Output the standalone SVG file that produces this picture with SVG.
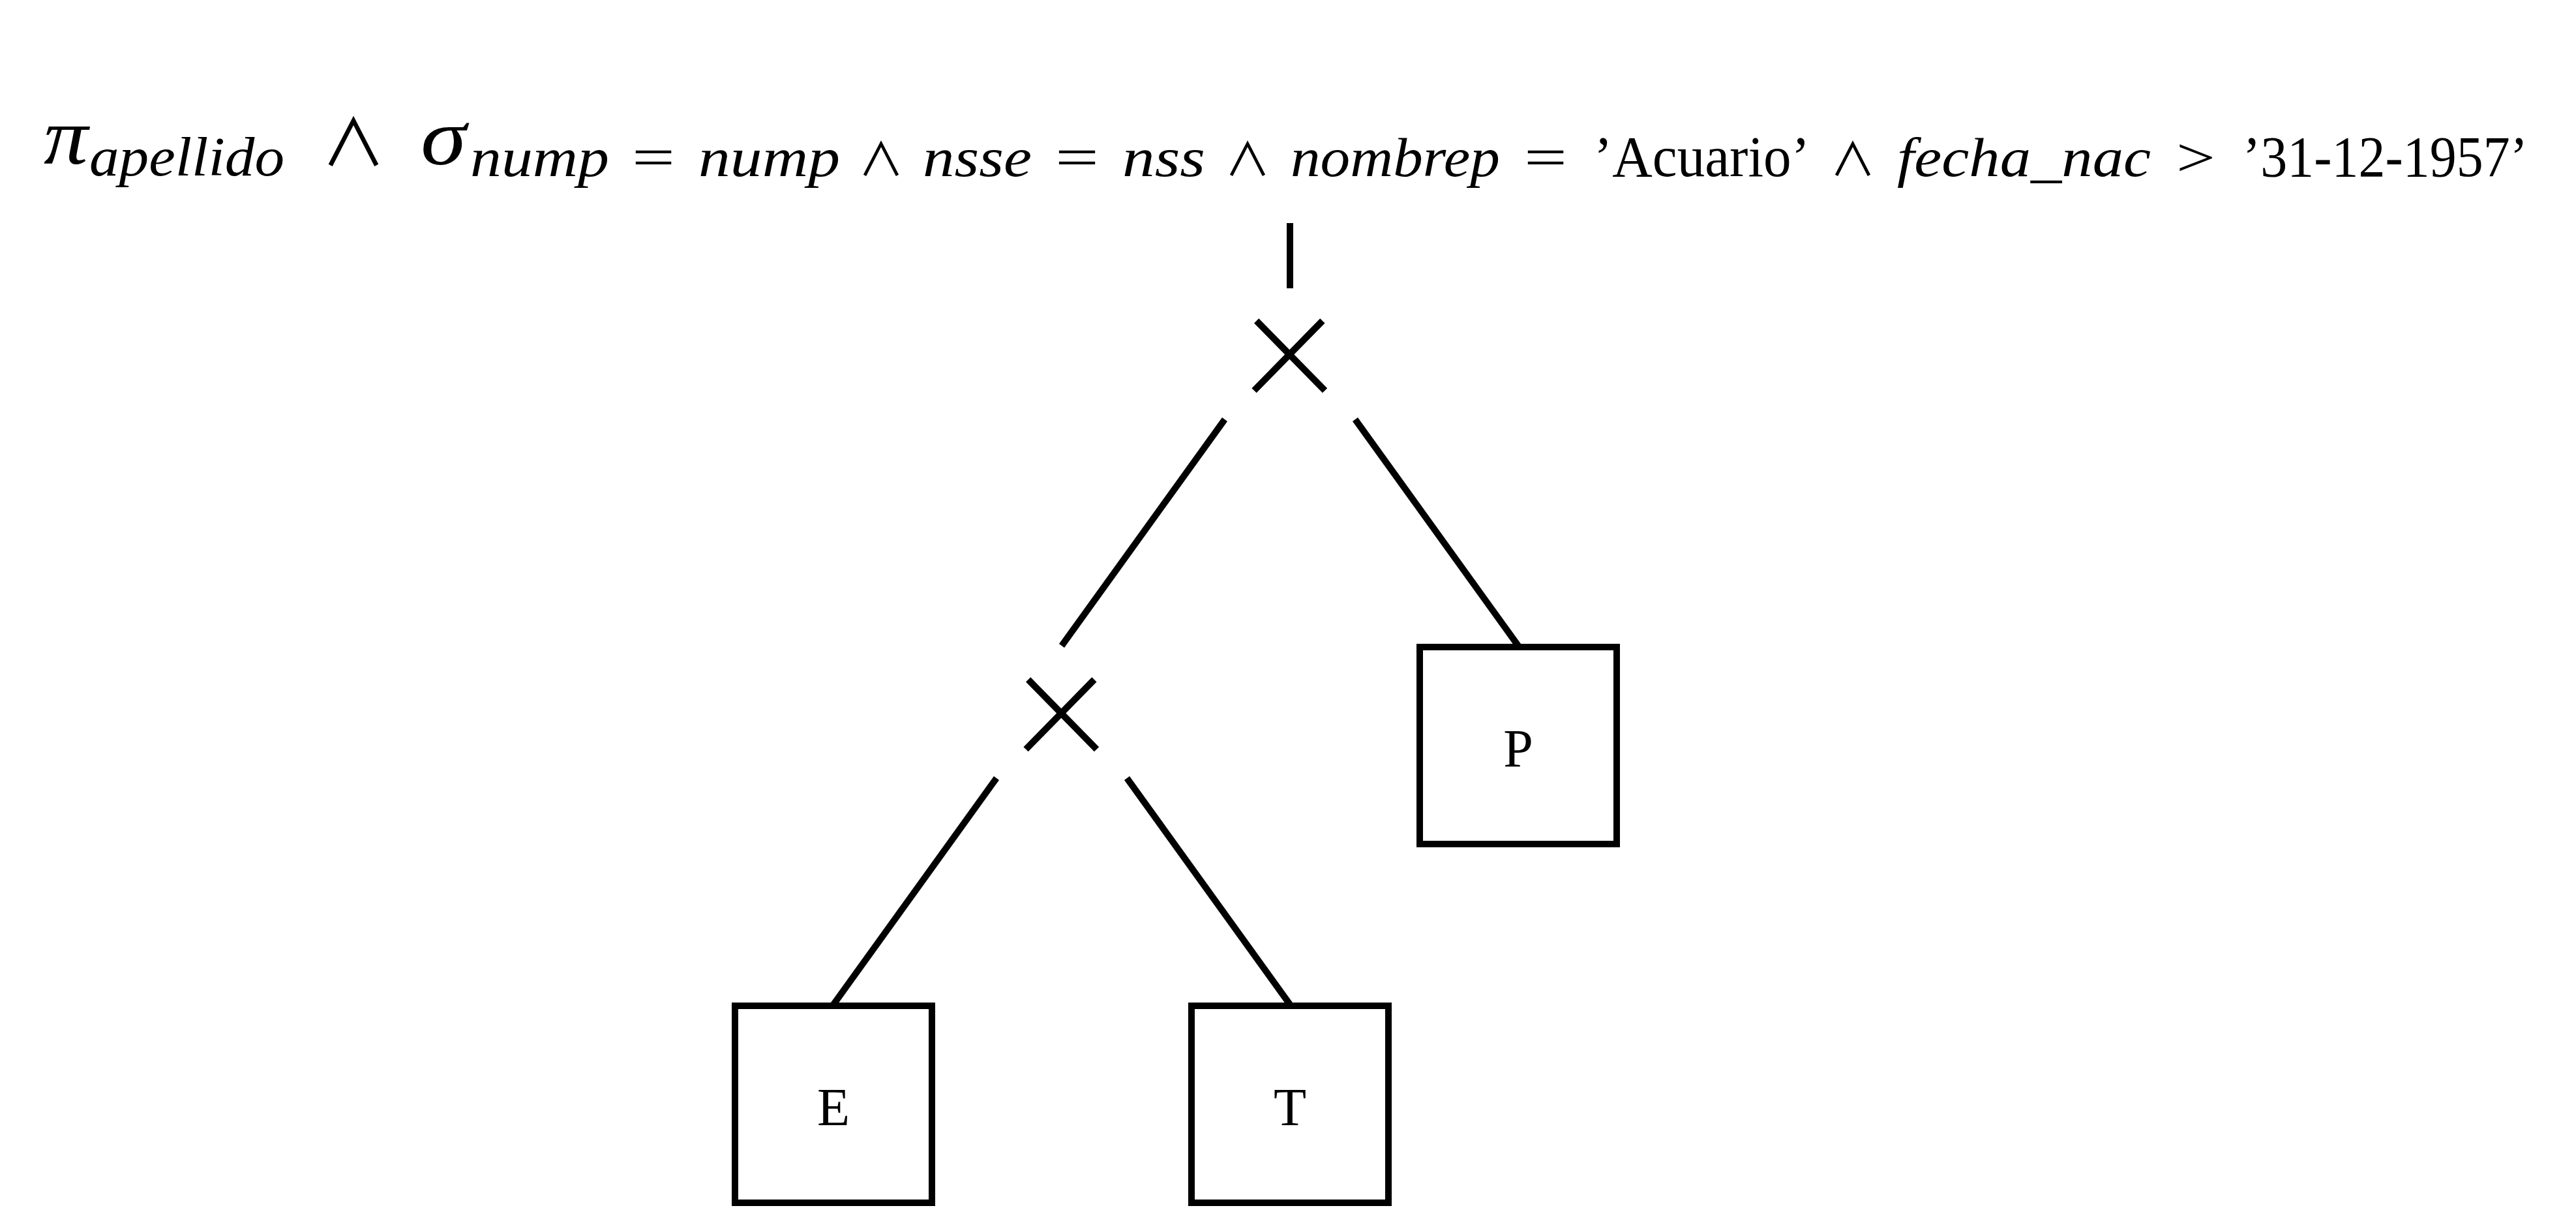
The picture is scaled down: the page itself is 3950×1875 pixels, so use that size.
<svg xmlns="http://www.w3.org/2000/svg" width="3950" height="1875" viewBox="0 0 3950 1875">
<style>
.edge{stroke:#000;stroke-width:10;stroke-linecap:butt;fill:none}
.box{fill:#fff;stroke:#000;stroke-width:10}
.it{font-family:"Liberation Serif","Times New Roman",serif;font-style:italic;fill:#000}
.rm{font-family:"Liberation Serif","Times New Roman",serif;fill:#000}
.op{font-family:"Noto Sans CJK JP","DejaVu Sans",sans-serif;font-weight:400;fill:#000;text-anchor:middle}
.lbl{font-family:"Liberation Serif","Times New Roman",serif;font-size:82px;fill:#000;text-anchor:middle}
.times{font-family:Roboto,"Liberation Sans",sans-serif;font-weight:100;font-size:270px;fill:#000;stroke:#000;stroke-width:3;text-anchor:middle}
</style>
<rect x="0" y="0" width="3950" height="1875" fill="#fff"/>
<g id="root-formula">
<text class="it" x="67" y="251" font-size="122" textLength="68" lengthAdjust="spacingAndGlyphs">π</text>
<text class="it" x="137" y="269" font-size="85" textLength="299" lengthAdjust="spacingAndGlyphs">apellido</text>
<text class="op" x="542" y="254" font-size="99">∧</text>
<text class="it" x="645" y="252" font-size="122" textLength="70" lengthAdjust="spacingAndGlyphs">σ</text>
<text class="it" x="721" y="270" font-size="85" textLength="213" lengthAdjust="spacingAndGlyphs">nump</text>
<text class="rm" x="969" y="270" font-size="85" textLength="66" lengthAdjust="spacingAndGlyphs">=</text>
<text class="it" x="1071" y="270" font-size="85" textLength="217" lengthAdjust="spacingAndGlyphs">nump</text>
<text class="op" x="1351" y="270" font-size="70">∧</text>
<text class="it" x="1415" y="270" font-size="85" textLength="167" lengthAdjust="spacingAndGlyphs">nsse</text>
<text class="rm" x="1618" y="270" font-size="85" textLength="67" lengthAdjust="spacingAndGlyphs">=</text>
<text class="it" x="1721" y="270" font-size="85" textLength="127" lengthAdjust="spacingAndGlyphs">nss</text>
<text class="op" x="1913" y="270" font-size="70">∧</text>
<text class="it" x="1979" y="270" font-size="85" textLength="321" lengthAdjust="spacingAndGlyphs">nombrep</text>
<text class="rm" x="2337" y="270" font-size="85" textLength="66" lengthAdjust="spacingAndGlyphs">=</text>
<text class="rm" x="2444" y="270" font-size="88" textLength="331" lengthAdjust="spacingAndGlyphs">’Acuario’</text>
<text class="op" x="2841" y="270" font-size="70">∧</text>
<text class="it" x="2909" y="270" font-size="85" textLength="389" lengthAdjust="spacingAndGlyphs">fecha_nac</text>
<text class="rm" x="3337" y="270" font-size="85" textLength="60" lengthAdjust="spacingAndGlyphs">&gt;</text>
<text class="rm" x="3439" y="270" font-size="88" textLength="437" lengthAdjust="spacingAndGlyphs">’31-12-1957’</text>
</g>
<g id="connectors">
<line class="edge" x1="1978" y1="342" x2="1978" y2="442"/>
<line class="edge" x1="1878" y1="643" x2="1628" y2="990"/>
<line class="edge" x1="2078" y1="643" x2="2328" y2="990"/>
<line class="edge" x1="1528" y1="1193" x2="1278" y2="1540"/>
<line class="edge" x1="1728" y1="1193" x2="1978" y2="1540"/>
</g>
<g id="product-top">
<text class="times" x="1978" y="600">×</text>
</g>
<g id="product-bottom">
<text class="times" x="1628" y="1150">×</text>
</g>
<g id="rel-P">
<rect class="box" x="2177" y="992" width="302" height="302"/>
<text class="lbl" x="2328" y="1175">P</text>
</g>
<g id="rel-E">
<rect class="box" x="1127" y="1542" width="302" height="302"/>
<text class="lbl" x="1278" y="1725">E</text>
</g>
<g id="rel-T">
<rect class="box" x="1827" y="1542" width="302" height="302"/>
<text class="lbl" x="1978" y="1725">T</text>
</g>
</svg>
